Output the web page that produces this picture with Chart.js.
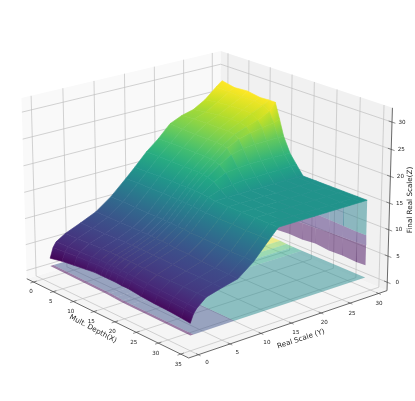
<!DOCTYPE html>
<html>
<head>
<meta charset="utf-8">
<title>Final Real Scale</title>
<script src="https://cdn.jsdelivr.net/npm/chart.js@4/dist/chart.umd.min.js"></script>
<style>
  html, body { margin: 0; padding: 0; background: #fff; }
  canvas { display: block; }
</style>
</head>
<body>
<canvas id="chart" width="415" height="401"></canvas>
<script>
// Eixos
const xTicks = [0, 5, 10, 15, 20, 25, 30, 35];
const yTicks = [0, 5, 10, 15, 20, 25, 30];
const zTicks = [0, 5, 10, 15, 20, 25, 30];
const xLim = [-1.75, 36.75];
const yLim = [-1.5, 31.5];
const zLim = [-1.6, 32.6];

// Superficie principal, uma linha por valor de Y
const surfX = [2, 5, 8, 11, 13, 14.5, 15.5, 16.5, 18, 19.5, 21, 24, 27, 30, 33, 35];
const surfY = [0, 0.5, 1, 2.5, 5, 7.5, 10, 12.5, 14, 16, 18, 20, 22, 24, 26, 28, 29];
const surfZ = [
  [3.2, 3.7, 4.0, 4.3, 4.5, 4.5, 4.5, 4.5, 4.5, 4.4, 4.4, 4.1, 3.9, 3.8, 3.6, 3.4],
  [5.1, 5.3, 5.5, 5.6, 5.7, 5.7, 5.7, 5.7, 5.7, 5.6, 5.6, 5.4, 5.3, 5.2, 5.1, 4.9],
  [6.0, 6.1, 6.2, 6.3, 6.4, 6.4, 6.4, 6.4, 6.3, 6.3, 6.2, 6.1, 6.0, 5.9, 5.8, 5.7],
  [7.1, 7.2, 7.3, 7.4, 7.4, 7.4, 7.4, 7.4, 7.4, 7.3, 7.3, 7.2, 7.2, 7.2, 7.2, 7.2],
  [8.3, 8.3, 8.3, 8.4, 8.4, 8.4, 8.4, 8.4, 8.4, 8.3, 8.3, 8.2, 8.1, 8.1, 8.0, 8.0],
  [9.6, 9.6, 9.6, 9.6, 9.6, 9.6, 9.6, 9.5, 9.5, 9.4, 9.3, 9.2, 9.0, 8.9, 8.8, 8.7],
  [11.7, 11.7, 11.6, 11.6, 11.6, 11.6, 11.5, 11.5, 11.4, 11.4, 11.3, 11.2, 11.1, 11.0, 11.0, 10.9],
  [14.4, 14.5, 14.5, 14.5, 14.5, 14.5, 14.5, 14.4, 14.4, 14.3, 14.2, 14.1, 14.1, 14.0, 14.0, 14.0],
  [16.1, 16.2, 16.3, 16.3, 16.3, 16.3, 16.3, 16.3, 16.2, 16.1, 15.9, 15.8, 15.8, 15.8, 15.8, 15.8],
  [18.5, 18.5, 18.5, 18.5, 18.5, 18.5, 18.4, 18.2, 17.8, 16.9, 15.9, 15.8, 15.8, 15.8, 15.8, 15.8],
  [20.4, 20.5, 20.5, 20.5, 20.5, 20.4, 20.3, 19.9, 18.9, 17.2, 15.9, 15.8, 15.8, 15.8, 15.8, 15.8],
  [22.7, 22.6, 22.5, 22.5, 22.5, 22.4, 22.1, 21.2, 19.2, 17.4, 15.9, 15.8, 15.8, 15.8, 15.8, 15.8],
  [23.7, 23.9, 24.0, 24.0, 24.0, 23.8, 23.2, 21.8, 19.3, 17.4, 15.9, 15.8, 15.8, 15.8, 15.8, 15.8],
  [24.3, 24.7, 25.0, 25.1, 25.1, 24.7, 23.8, 22.0, 19.3, 17.4, 15.9, 15.8, 15.8, 15.8, 15.8, 15.8],
  [25.6, 26.0, 26.2, 26.3, 26.2, 25.4, 24.2, 22.0, 19.3, 17.4, 15.9, 15.8, 15.8, 15.8, 15.8, 15.8],
  [27.6, 27.4, 27.3, 27.4, 27.2, 26.4, 24.6, 22.0, 19.3, 17.5, 15.9, 15.8, 15.8, 15.8, 15.8, 15.8],
  [28.5, 28.0, 28.2, 27.8, 27.9, 27.9, 25.0, 22.0, 19.2, 17.5, 15.8, 15.8, 15.8, 15.8, 15.8, 15.8]
];
const surfRange = [3.2, 28];

// Superficie transparente de baixo (valor de cor por celula)
const floorX = [2, 16, 17.5, 19, 21, 35];
const floorY = [0, 0.5, 7, 29];
const floorZ = [1.7, 1.5, 1.4, 1.3, 1.3, 1.2];
const floorLevel = [
  [0.0, 0.0, 0.0, 0.0, 0.0],
  [0.25, 0.25, 0.25, 0.25, 0.25],
  [0.97, 0.82, 0.7, 0.58, 0.47]
];

// Parede transparente atras da superficie (Y fixo)
const wallY = 29;
const wallX = [15, 18, 21, 24, 27, 30, 33, 35];
const wallZ = [
  [3.4, 3.6, 3.5, 3.8, 3.5, 3.6, 3.4, 3.5],
  [6.2, 6.5, 6.7, 6.8, 7.0, 7.1, 7.2, 7.3],
  [8.6, 9.7, 9.6, 9.5, 9.4, 9.3, 9.2, 9.2],
  [15.8, 15.8, 15.8, 15.8, 15.8, 15.8, 15.8, 15.8]
];
const wallLevel = [
  [0.03, 0.03, 0.03, 0.03, 0.03, 0.03, 0.03],
  [0.12, 0.12, 0.12, 0.12, 0.12, 0.12, 0.12],
  [0.25, 0.25, 0.25, 0.28, 0.34, 0.42, 0.46]
];

const viridisStops = [
  [68, 1, 84], [72, 36, 117], [65, 68, 135], [53, 95, 141], [42, 120, 142], [33, 145, 140],
  [34, 168, 132], [68, 191, 112], [122, 209, 81], [189, 223, 38], [253, 231, 37]
];

// Camera: azimute -40, elevacao 20, caixa 4:4:3
const azim = -40 * Math.PI / 180;
const elev = 20 * Math.PI / 180;
const boxSize = [1.143, 1.143, 0.857];
const camDist = 10;

function view(X, Y, Z) {
  const u = ((X - xLim[0]) / (xLim[1] - xLim[0]) - 0.5) * boxSize[0];
  const v = ((Y - yLim[0]) / (yLim[1] - yLim[0]) - 0.5) * boxSize[1];
  const w = ((Z - zLim[0]) / (zLim[1] - zLim[0]) - 0.5) * boxSize[2];
  const ca = Math.cos(azim), sa = Math.sin(azim), ce = Math.cos(elev), se = Math.sin(elev);
  const right = -sa * u + ca * v;
  const up = -se * ca * u - se * sa * v + ce * w;
  const depth = ce * ca * u + ce * sa * v + se * w;
  const f = 1 / (1 - depth / camDist);
  return { x: right * f, y: up * f, depth: depth };
}

function viridis(t) {
  t = Math.min(1, Math.max(0, t)) * (viridisStops.length - 1);
  const i = Math.min(viridisStops.length - 2, Math.floor(t));
  const k = t - i;
  return viridisStops[i].map((c, n) => Math.round(c + (viridisStops[i + 1][n] - c) * k));
}
const rgba = (c, a) => `rgba(${c[0]},${c[1]},${c[2]},${a})`;
const surfColor = z => viridis((z - surfRange[0]) / (surfRange[1] - surfRange[0]));

const datasets = [];

function addLine(points, color, width) {
  datasets.push({
    data: points.map(p => { const q = view(p[0], p[1], p[2]); return { x: q.x, y: q.y }; }),
    borderColor: color, borderWidth: width, backgroundColor: 'transparent', fill: false
  });
}
function addPoly(points, fillColor) {
  const closed = points.concat([points[0]]);
  datasets.push({
    data: closed.map(p => { const q = view(p[0], p[1], p[2]); return { x: q.x, y: q.y }; }),
    backgroundColor: fillColor, borderWidth: 0, fill: 'shape'
  });
}

// Paineis
const [x0, x1] = xLim, [y0, y1] = yLim, [z0, z1] = zLim;
addPoly([[x0, y0, z0], [x1, y0, z0], [x1, y1, z0], [x0, y1, z0]], '#f5f5f5');
addPoly([[x0, y0, z0], [x0, y1, z0], [x0, y1, z1], [x0, y0, z1]], '#f9f9f9');
addPoly([[x0, y1, z0], [x1, y1, z0], [x1, y1, z1], [x0, y1, z1]], '#f1f1f1');

// Grade
const gridColor = 'rgba(190,190,190,0.75)';
xTicks.forEach(t => {
  addLine([[t, y0, z0], [t, y1, z0], [t, y1, z1]], gridColor, 0.9);
});
yTicks.forEach(t => {
  addLine([[x1, t, z0], [x0, t, z0], [x0, t, z1]], gridColor, 0.9);
});
zTicks.forEach(t => {
  addLine([[x0, y0, t], [x0, y1, t], [x1, y1, t]], gridColor, 0.9);
});

// Eixos e marcas
const axisColor = '#444';
addLine([[x0, y0, z0], [x1, y0, z0], [x1, y1, z0], [x1, y1, z1]], axisColor, 0.8);
xTicks.forEach(t => addLine([[t, y0 + 0.5, z0], [t, y0 - 0.5, z0]], axisColor, 0.6));
yTicks.forEach(t => addLine([[x1 - 0.5, t, z0], [x1 + 0.5, t, z0]], axisColor, 0.6));
zTicks.forEach(t => addLine([[x1 - 0.7, y1, t], [x1 + 0.7, y1, t]], axisColor, 0.6));

// Parede e superficie de baixo, com transparencia
for (let j = 0; j < wallLevel.length; j++) {
  for (let i = 0; i < wallX.length - 1; i++) {
    addPoly([
      [wallX[i], wallY, wallZ[j][i]], [wallX[i + 1], wallY, wallZ[j][i + 1]],
      [wallX[i + 1], wallY, wallZ[j + 1][i + 1]], [wallX[i], wallY, wallZ[j + 1][i]]
    ], rgba(viridis(wallLevel[j][i]), 0.5));
  }
}
for (let j = 0; j < floorLevel.length; j++) {
  for (let i = 0; i < floorX.length - 1; i++) {
    addPoly([
      [floorX[i], floorY[j], floorZ[i]], [floorX[i + 1], floorY[j], floorZ[i + 1]],
      [floorX[i + 1], floorY[j + 1], floorZ[i + 1]], [floorX[i], floorY[j + 1], floorZ[i]]
    ], rgba(viridis(floorLevel[j][i]), 0.5));
  }
}

// Superficie opaca: celulas do fundo para a frente
const cells = [];
for (let j = 0; j < surfY.length - 1; j++) {
  for (let i = 0; i < surfX.length - 1; i++) {
    const pts = [[i, j], [i + 1, j], [i + 1, j + 1], [i, j + 1]].map(a => [surfX[a[0]], surfY[a[1]], surfZ[a[1]][a[0]]]);
    const depth = pts.reduce((s, p) => s + view(p[0], p[1], p[2]).depth, 0) / 4;
    cells.push({ pts, depth });
  }
}
cells.sort((a, b) => a.depth - b.depth);

// Cor em degrade ao longo da direcao em que Z muda mais na celula;
// as linhas de mesma cor ficam paralelas a aresta da celula
function cellPaint(pts) {
  const mid = (a, b) => [(a[0] + b[0]) / 2, (a[1] + b[1]) / 2, (a[2] + b[2]) / 2];
  const alongY = [mid(pts[0], pts[1]), mid(pts[3], pts[2])];
  const alongX = [mid(pts[0], pts[3]), mid(pts[1], pts[2])];
  const dy = Math.abs(alongY[0][2] - alongY[1][2]), dx = Math.abs(alongX[0][2] - alongX[1][2]);
  const ends = dy >= dx ? alongY : alongX;
  const edge = dy >= dx ? [pts[0], pts[1]] : [pts[0], pts[3]];
  return function (ctx) {
    const scales = ctx.chart.scales;
    const mean = (ends[0][2] + ends[1][2]) / 2;
    if (!scales.x || !scales.y || !scales.x.width) return rgba(surfColor(mean), 1);
    const toPixel = p => {
      const q = view(p[0], p[1], p[2]);
      return [scales.x.getPixelForValue(q.x), scales.y.getPixelForValue(q.y)];
    };
    const a = toPixel(ends[0]), b = toPixel(ends[1]), e0 = toPixel(edge[0]), e1 = toPixel(edge[1]);
    const ex = e1[0] - e0[0], ey = e1[1] - e0[1];
    const len = Math.hypot(ex, ey) || 1;
    const nx = -ey / len, ny = ex / len;
    const d = (b[0] - a[0]) * nx + (b[1] - a[1]) * ny;
    const g = ctx.chart.ctx.createLinearGradient(a[0], a[1], a[0] + nx * d, a[1] + ny * d);
    g.addColorStop(0, rgba(surfColor(ends[0][2]), 1));
    g.addColorStop(1, rgba(surfColor(ends[1][2]), 1));
    return g;
  };
}
cells.forEach(c => {
  const paint = cellPaint(c.pts);
  const closed = c.pts.concat([c.pts[0]]);
  datasets.push({
    data: closed.map(p => { const q = view(p[0], p[1], p[2]); return { x: q.x, y: q.y }; }),
    backgroundColor: paint, borderColor: paint, borderWidth: 0.6, fill: 'shape'
  });
});

// O Chart.js desenha primeiro a maior "order"
datasets.forEach((d, i) => { d.order = -i; d.showLine = true; d.tension = 0; d.pointRadius = 0; });

// Textos dos eixos, presos ao ponto projetado
const axisText = {
  id: 'axisText',
  afterDatasetsDraw(chart) {
    const ctx = chart.ctx, sx = chart.scales.x, sy = chart.scales.y;
    const put = (X, Y, Z, dx, dy, text) => {
      const q = view(X, Y, Z);
      ctx.fillText(text, sx.getPixelForValue(q.x) + dx, sy.getPixelForValue(q.y) + dy);
    };
    ctx.save();
    ctx.fillStyle = '#222';
    ctx.textAlign = 'center';
    ctx.textBaseline = 'middle';
    ctx.font = "5.6px 'DejaVu Sans'";
    xTicks.forEach(t => put(t, y0, z0, -2.5, 10, String(t)));
    yTicks.forEach(t => put(x1, t, z0, 8.6 - t * 0.27, 8 + t * 0.08, String(t)));
    zTicks.forEach(t => put(x1, y1, t, 10, 0, String(t)));
    ctx.font = "7.2px 'DejaVu Sans'";
    const label = (text, x, y, deg) => {
      ctx.save();
      ctx.translate(x, y);
      ctx.rotate(deg * Math.PI / 180);
      ctx.fillText(text, 0, 0);
      ctx.restore();
    };
    label('Mult. Depth(X)', 93, 329, 28);
    label('Real Scale (Y)', 301, 339, -18);
    label('Final Real Scale(Z)', 410, 200, -90);
    ctx.restore();
  }
};

new Chart(document.getElementById('chart'), {
  type: 'scatter',
  data: { datasets: datasets },
  plugins: [axisText],
  options: {
    responsive: false,
    animation: false,
    events: [],
    layout: { padding: 0 },
    plugins: { legend: { display: false }, tooltip: { enabled: false } },
    scales: {
      x: { type: 'linear', display: false, min: -0.9062, max: 0.9220 },
      y: { type: 'linear', display: false, min: -0.9127, max: 0.8648 }
    }
  }
});
</script>
</body>
</html>
